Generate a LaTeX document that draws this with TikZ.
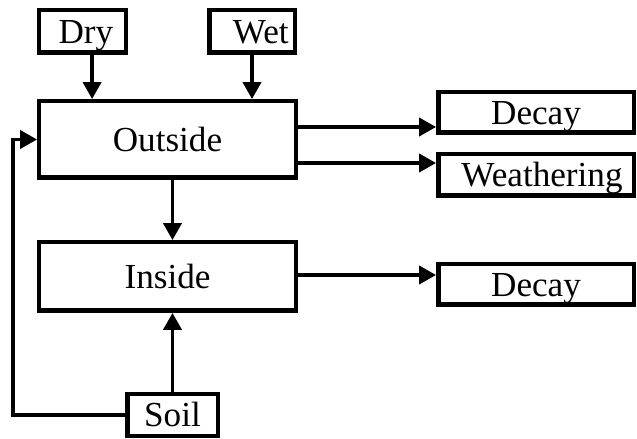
\documentclass[tikz,border=0pt]{standalone}
\usepackage{fontspec}
\setmainfont{Liberation Serif}
\usetikzlibrary{arrows.meta}

\begin{document}
\begin{tikzpicture}[
    box/.style={draw, line width=3.2pt, inner sep=0pt, text height=16.5pt, text depth=0pt,
      font=\fontsize{25}{30}\selectfont},
    flow/.style={line width=2.5pt, -{Triangle[length=0.42cm, width=0.45cm]}}
  ]
    \useasboundingbox (0,0) rectangle (15.925,-10.975);

    % sources
    \node[box, minimum width=2.1625cm, minimum height=1.0625cm] (dry) at (2.0625,-0.7875) {\hspace{0.17cm}Dry};
    \node[box, minimum width=2.1375cm, minimum height=1.0625cm] (wet) at (6.3,-0.7875) {\hspace{0.44cm}Wet};
    \node[box, minimum width=2.2625cm, minimum height=1.0375cm] (soil) at (4.3125,-10.375) {Soil\hspace{0.35cm}};

    % compartments
    \node[box, minimum width=6.4125cm, minimum height=1.9125cm] (outside) at (4.1875,-3.4875) {Outside};
    \node[box, minimum width=6.4125cm, minimum height=1.7125cm] (inside) at (4.1875,-6.9125) {Inside};

    % sinks
    \node[box, minimum width=4.8875cm, minimum height=1.0125cm] (decayout) at (13.4,-2.8125) {Decay};
    \node[box, minimum width=4.8875cm, minimum height=1.0375cm] (weather) at (13.4,-4.375) {\hspace{0.3cm}Weathering};
    \node[box, minimum width=4.8875cm, minimum height=1.0125cm] (decayin) at (13.4,-7.1125) {Decay};

    % input
    \draw[flow] ([xshift=0.24cm]dry.south) -- ([xshift=0.24cm]dry.south |- outside.north);
    \draw[flow] (wet.south) -- (wet.south |- outside.north);
    \draw[flow] (outside.south -| soil.north) -- (inside.north -| soil.north);
    \draw[flow] (soil.north) -- (inside.south -| soil.north);

    % feedback
    \draw[flow] (soil.west) -| ([xshift=-0.6cm]outside.west) -- (outside.west);

    % output
    \draw[flow] ([yshift=-0.3625cm]decayout.west -| outside.east) -- ([yshift=-0.3625cm]decayout.west);
    \draw[flow] ([yshift=0.3cm]weather.west -| outside.east) -- ([yshift=0.3cm]weather.west);
    \draw[flow] ([yshift=0.2375cm]decayin.west -| inside.east) -- ([yshift=0.2375cm]decayin.west);

\end{tikzpicture}
\end{document}
